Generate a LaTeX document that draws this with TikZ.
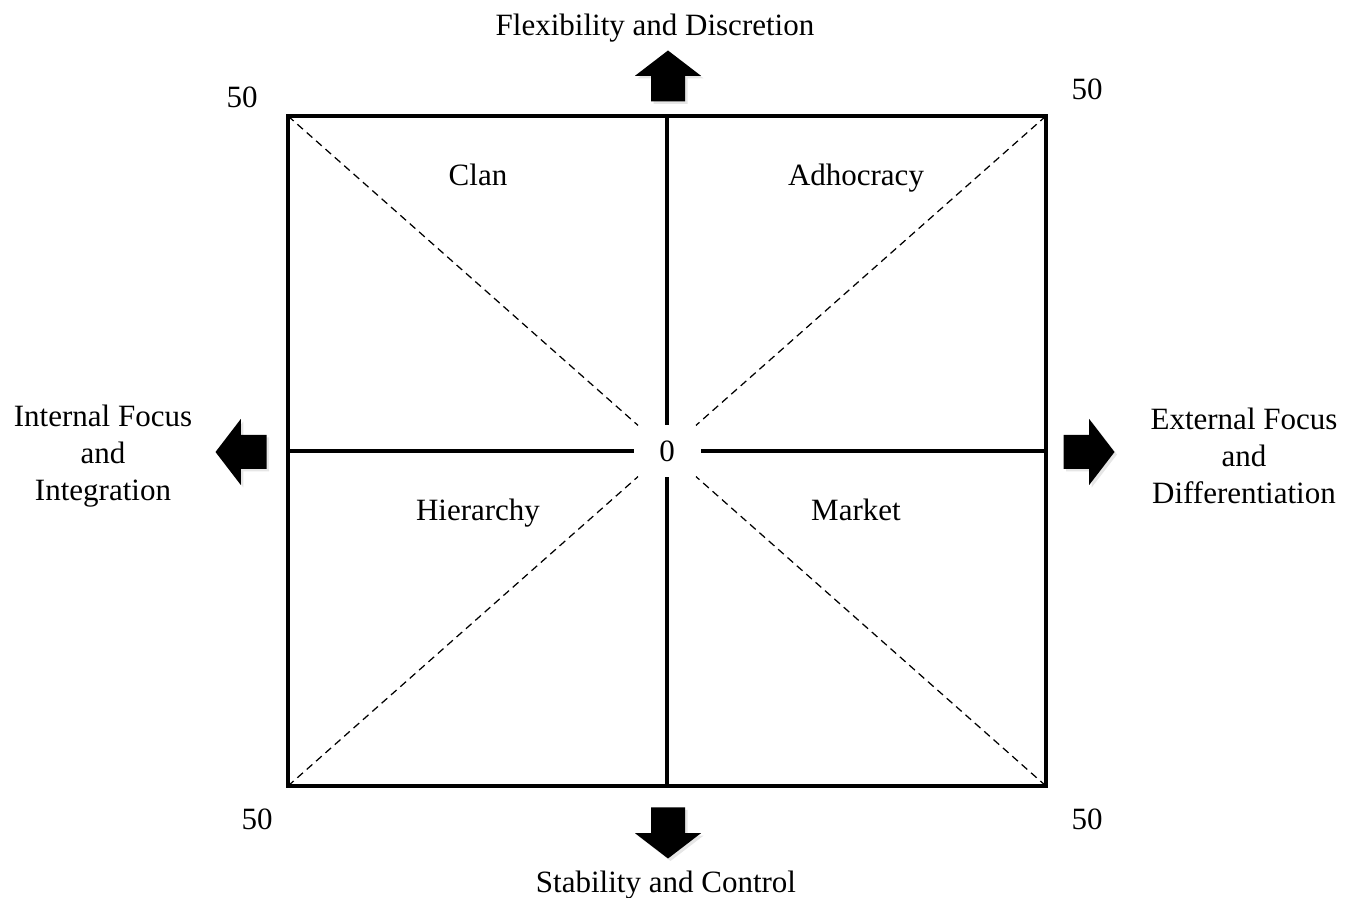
\documentclass[tikz,border=0pt]{standalone}
\usepackage{fontspec}
\setmainfont{Liberation Serif}
\usetikzlibrary{positioning,shapes.arrows,shadows}

\begin{document}
\begin{tikzpicture}[x=0.4pt, y=-0.4pt, font=\fontsize{12.4}{14.9}\selectfont,
    every node/.style={align=center},
    lbl/.style={text height=10.8pt, text depth=2.6pt},
    frame/.style={line width=1.5pt},
    diag/.style={line width=0.5pt, dash pattern=on 3pt off 2pt},
    bigarrow/.style={single arrow, fill=black, inner xsep=0pt, inner ysep=6.6pt,
        minimum height=20.4pt, single arrow head extend=6.4pt, single arrow tip angle=105,
        anchor=tail, drop shadow={shadow xshift=1pt, shadow yshift=-1pt, opacity=0.2}}]
    \useasboundingbox (0,0) rectangle (1356,898);

    % frame and centre
    \node (box) [frame, draw, rectangle, outer sep=0pt, minimum width=303.2pt, minimum height=268pt] at (667,451) {};
    \node (zero) [lbl, minimum width=26.4pt, minimum height=20pt] at (box.center) {0};

    % axes
    \draw[frame] (box.north) -- (zero);
    \draw[frame] (box.south) -- (zero);
    \draw[frame] (box.west) -- (zero);
    \draw[frame] (box.east) -- (zero);

    % diagonals
    \draw[diag] (box.north west) -- (zero);
    \draw[diag] (box.north east) -- (zero);
    \draw[diag] (box.south west) -- (zero);
    \draw[diag] (box.south east) -- (zero);

    % quadrants
    \node (clan) [lbl] at (478,175) {Clan};
    \node (adhocracy) [lbl] at (856,175) {Adhocracy};
    \node (hierarchy) [lbl] at (478,510) {Hierarchy};
    \node (market) [lbl] at (856,510) {Market};

    % corner values
    \node (nwVal) [lbl] at (242,97) {50};
    \node (neVal) [lbl] at (1087,89) {50};
    \node (swVal) [lbl] at (257,819) {50};
    \node (seVal) [lbl] at (1087,819) {50};

    % block arrows
    \node (upArrow) [bigarrow, rotate=90] at (668,102) {};
    \node (downArrow) [bigarrow, rotate=270] at (668,807) {};
    \node (leftArrow) [bigarrow, rotate=180] at (267,452) {};
    \node (rightArrow) [bigarrow] at (1063,452) {};

    % axis labels
    \node (flex) [lbl] at (655,25) {Flexibility and Discretion};
    \node (stab) [lbl] at (666,882) {Stability and Control};
    \node (internal) at (103,456) {Internal Focus\\and\\Integration};
    \node (external) at (1244,456) {External Focus\\and\\Differentiation};
\end{tikzpicture}
\end{document}
